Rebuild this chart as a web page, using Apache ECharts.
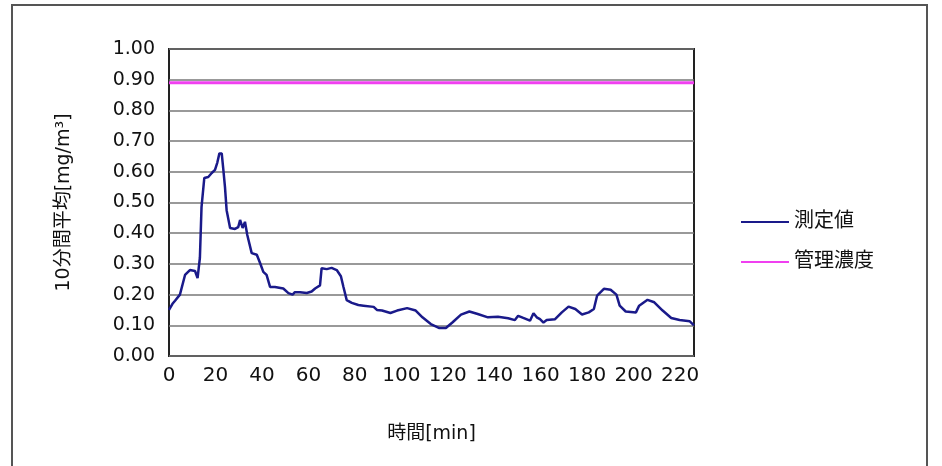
<!DOCTYPE html>
<html>
<head>
<meta charset="utf-8">
<script src="https://cdn.jsdelivr.net/npm/echarts@6/dist/echarts.min.js"></script>
<style>
  html, body { margin: 0; padding: 0; background: #fff; }
  #chart { width: 942px; height: 466px; }
</style>
</head>
<body>
<div id="chart"></div>
<script>
var times = [0, 1.5, 2.6, 4.7, 6.9, 9, 11.2, 12.3, 13.3, 14, 15.2, 16.9, 18.4, 19.8, 20.8, 21.7, 22.7, 23.4, 24.1, 24.8,
  26.3, 28.4, 29.8, 30.6, 31.7, 32.7, 33.7, 35.6, 37.8, 39.2, 40.6, 42, 43.5, 45.6, 49.2, 51.4, 53.2, 54.2, 56.4, 59.3,
  61.4, 62.9, 65, 65.7, 67.9, 70, 72.2, 74, 75.1, 76.5, 78.7, 81.5, 83.7, 88.1, 89.5, 91.7, 95.3, 98.2, 102.5, 106.2,
  109.1, 112.7, 116.4, 119.2, 122.1, 125.7, 129.3, 132.9, 137.3, 141.6, 146, 148.9, 150.3, 152.5, 155.4, 156.9, 158.3, 159.7, 161.2, 162.6,
  166.2, 169.1, 172, 174.9, 177.8, 180.7, 182.9, 184.3, 187.2, 190.1, 192.6, 194, 196.6, 201, 202.4, 206, 208.9, 212.5, 216.2, 219.8,
  224.2, 226]
var values = [0.15, 0.17, 0.18, 0.20, 0.264, 0.28, 0.277, 0.254, 0.32, 0.485, 0.58, 0.583, 0.596, 0.606, 0.63, 0.66, 0.66, 0.606, 0.55, 0.475,
  0.417, 0.414, 0.42, 0.443, 0.417, 0.437, 0.394, 0.335, 0.33, 0.303, 0.274, 0.264, 0.225, 0.225, 0.22, 0.205, 0.2, 0.208, 0.208, 0.205,
  0.21, 0.22, 0.23, 0.286, 0.283, 0.287, 0.28, 0.26, 0.225, 0.182, 0.173, 0.166, 0.164, 0.16, 0.15, 0.148, 0.14, 0.148, 0.156, 0.148,
  0.126, 0.104, 0.091, 0.091, 0.11, 0.135, 0.145, 0.137, 0.126, 0.128, 0.123, 0.117, 0.131, 0.124, 0.115, 0.139, 0.126, 0.12, 0.109, 0.117,
  0.12, 0.142, 0.161, 0.153, 0.135, 0.142, 0.153, 0.197, 0.219, 0.216, 0.2, 0.164, 0.145, 0.142, 0.164, 0.183, 0.175, 0.148, 0.124, 0.117,
  0.113, 0.10]
// 管理濃度
var limitTimes = [0, 226]
var limitValues = [0.89, 0.89]

var xTicks = [0, 20, 40, 60, 80, 100, 120, 140, 160, 180, 200, 220]

var font = 'DejaVu Sans, Noto Sans CJK JP, sans-serif'
var chart = echarts.init(document.getElementById('chart'))

var measured = times.map(function (t, i) { return [t, values[i]] })
var limit = limitTimes.map(function (t, i) { return [t, limitValues[i]] })

var option = {
  animation: false,
  textStyle: { fontFamily: font },
  graphic: [{
    type: 'rect',
    shape: { x: 12, y: 5, width: 915, height: 480 },
    style: { fill: 'none', stroke: '#555', lineWidth: 2 },
    silent: true
  }],
  grid: {
    left: 169, right: 248, top: 49, bottom: 110,
    show: true, borderColor: '#222', borderWidth: 2, backgroundColor: '#fff'
  },
  legend: {
    orient: 'vertical',
    left: 735, top: 207,
    itemWidth: 48, itemHeight: 14, itemGap: 20,
    itemStyle: { opacity: 0 },
    lineStyle: { width: 2 },
    textStyle: { fontSize: 20, color: '#111', fontFamily: font },
    data: ['測定値', '管理濃度']
  },
  xAxis: {
    type: 'value',
    min: 0, max: 226, interval: 20,
    name: '時間[min]',
    nameLocation: 'middle',
    nameGap: 69,
    nameTextStyle: { fontSize: 19, color: '#111' },
    axisLine: { show: false },
    axisTick: { show: false },
    splitLine: { show: false },
    axisLabel: {
      fontSize: 20, color: '#111', margin: 10,
      formatter: function (v) { return xTicks.indexOf(v) >= 0 ? String(v) : '' }
    }
  },
  yAxis: {
    type: 'value',
    min: 0, max: 1, interval: 0.1,
    name: '10分間平均[mg/m³]',
    nameLocation: 'middle',
    nameGap: 95,
    nameTextStyle: { fontSize: 19, color: '#111' },
    axisLine: { show: false },
    axisTick: { show: false },
    splitLine: { lineStyle: { color: '#777', width: 1.5 } },
    axisLabel: {
      fontSize: 19, color: '#111', margin: 14,
      formatter: function (v) { return v.toFixed(2) }
    }
  },
  series: [{
    name: '測定値',
    type: 'line',
    symbol: 'none',
    color: '#1a1a8a',
    lineStyle: { width: 2.5, color: '#1a1a8a' },
    data: measured
  }, {
    name: '管理濃度',
    type: 'line',
    symbol: 'none',
    color: '#f040f0',
    lineStyle: { width: 3, color: '#f040f0' },
    data: limit
  }]
}
chart.setOption(option)
</script>
</body>
</html>
